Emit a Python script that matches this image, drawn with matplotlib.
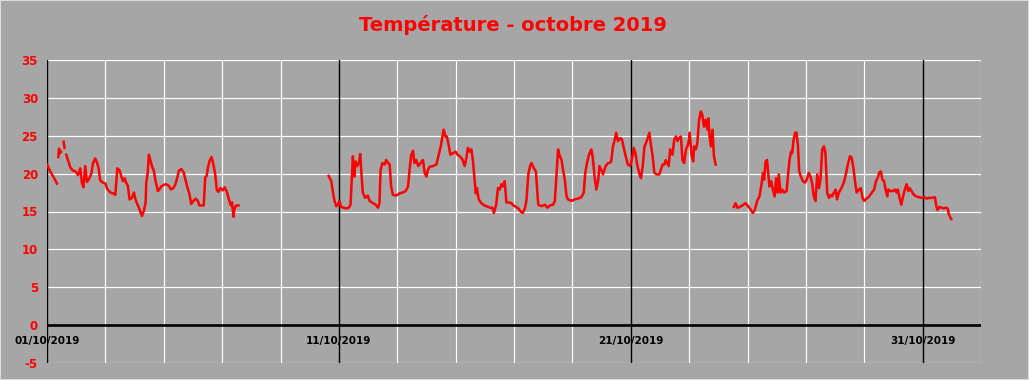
import numpy as np
import matplotlib
matplotlib.use("Agg")
import matplotlib.pyplot as plt
from matplotlib.patches import Rectangle

nan = np.nan

# days since 01/10/2019 00:00, temperatures in degC (NaN = missing data)
seg1_days = [0.0, 0.11, 0.23, 0.34, nan, 0.39, 0.41, 0.45, 0.48, nan, 0.57, 0.60, nan,
             0.66, 0.75, 0.80, 0.89, 0.98, 1.06, 1.14, 1.20, 1.25, 1.31,
             1.37, 1.44, 1.52, 1.57, 1.65, 1.71, 1.77, 1.82, 1.92, 2.00,
             2.06, 2.17, 2.26, 2.34, 2.41, 2.49, 2.54, 2.60, 2.66, 2.71,
             2.77, 2.83, 2.91, 2.98, 3.03, 3.09, 3.17, 3.25, 3.32, 3.38,
             3.40, 3.45, 3.49, 3.55, 3.60, 3.66, 3.72, 3.80, 3.85, 3.91,
             3.99, 4.08, 4.17, 4.25, 4.33, 4.40, 4.46, 4.52, 4.60, 4.68,
             4.73, 4.80, 4.88, 4.94, 5.02, 5.09, 5.17, 5.22, 5.30, 5.37,
             5.42, 5.47, 5.51, 5.57, 5.64, 5.70, 5.76, 5.82, 5.87, 5.94,
             6.02, 6.09, 6.16, 6.24, 6.30, 6.34, 6.39, 6.42, 6.48, 6.56]
seg1_temp = [21.2, 20.3, 19.5, 18.7, nan, 22.2, 23.3, 22.7, 22.9, nan, 24.2, 23.4, nan,
             22.5, 21.4, 20.8, 20.4, 20.3, 19.8, 20.7, 18.7, 18.2, 21.0,
             18.9, 19.3, 20.0, 21.3, 22.0, 21.5, 20.7, 19.1, 18.8, 18.7,
             18.0, 17.5, 17.4, 17.2, 20.7, 20.4, 19.7, 19.0, 19.4, 18.8,
             18.4, 16.6, 16.8, 17.5, 16.6, 16.0, 15.3, 14.4, 15.1, 16.2,
             18.8, 20.1, 22.5, 21.7, 20.9, 20.4, 19.0, 17.7, 17.9, 18.3,
             18.5, 18.6, 18.4, 17.9, 18.1, 18.6, 19.4, 20.4, 20.6, 20.2,
             19.4, 18.3, 17.3, 16.0, 16.4, 16.7, 16.4, 15.8, 15.8, 15.8,
             19.5, 19.7, 20.7, 21.7, 22.2, 21.2, 20.0, 17.8, 17.6, 18.1,
             17.8, 18.2, 17.6, 16.5, 15.8, 16.2, 14.3, 15.3, 15.8, 15.8]

seg2_days = [9.65, 9.74, 9.79, 9.85, 9.91, 9.97, 10.02, 10.08, 10.16, 10.25,
             10.34, 10.40, 10.45, 10.48, 10.53, 10.57, 10.63, 10.69, 10.73, 10.78,
             10.82, 10.90, 10.99, 11.05, 11.17, 11.26, 11.34, 11.39, 11.43, 11.49,
             11.57, 11.62, 11.69, 11.74, 11.79, 11.85, 11.97, 12.08, 12.19, 12.29,
             12.37, 12.42, 12.48, 12.54, 12.59, 12.65, 12.72, 12.80, 12.88, 12.94,
             13.00, 13.05, 13.11, 13.22, 13.34, 13.42, 13.49, 13.54, 13.59, 13.65,
             13.70, 13.76, 13.82, 13.91, 14.00, 14.06, 14.14, 14.23, 14.31, 14.37,
             14.42, 14.48, 14.54, 14.59, 14.65, 14.69, 14.73, 14.79, 14.88, 14.99,
             15.11, 15.19, 15.26, 15.31, 15.39, 15.45, 15.51, 15.57, 15.62, 15.68,
             15.74, 15.83, 15.91, 15.98, 16.07, 16.15, 16.23, 16.30, 16.38, 16.43,
             16.49, 16.55, 16.60, 16.68, 16.75, 16.83, 16.94, 17.06, 17.15, 17.23,
             17.34, 17.40, 17.45, 17.51, 17.57, 17.63, 17.68, 17.74, 17.80, 17.85,
             17.97, 18.08, 18.19, 18.31, 18.39, 18.44, 18.50, 18.57, 18.65, 18.70,
             18.76, 18.82, 18.88, 18.93, 18.99, 19.05, 19.14, 19.22, 19.27, 19.33,
             19.39, 19.44, 19.50, 19.56, 19.64, 19.70, 19.76, 19.84, 19.90, 19.98,
             20.05, 20.10, 20.16, 20.22, 20.30, 20.35, 20.41, 20.47, 20.52, 20.58,
             20.64, 20.69, 20.75, 20.81, 20.89, 20.98, 21.03, 21.09, 21.15, 21.20,
             21.30, 21.35, 21.43, 21.49, 21.55, 21.60, 21.66, 21.72, 21.77, 21.83,
             21.89, 21.94, 22.00, 22.02, 22.08, 22.14, 22.17, 22.23, 22.28, 22.34,
             22.40, 22.45, 22.51, 22.57, 22.63, 22.66, 22.70, 22.75, 22.80, 22.85,
             22.91]
seg2_temp = [19.7, 19.0, 17.7, 16.4, 15.7, 15.9, 16.4, 15.6, 15.5, 15.4,
             15.5, 15.9, 20.1, 22.3, 19.6, 21.6, 21.0, 21.5, 22.6, 19.6,
             17.5, 16.8, 17.1, 16.4, 16.1, 15.9, 15.5, 16.1, 20.5, 21.4,
             21.2, 21.8, 21.4, 21.2, 18.3, 17.2, 17.1, 17.4, 17.5, 17.7,
             18.3, 20.5, 22.5, 23.0, 21.4, 21.8, 21.0, 21.4, 21.8, 20.1,
             19.6, 20.5, 20.9, 21.0, 21.2, 22.5, 23.6, 24.7, 25.8, 24.9,
             24.9, 23.8, 22.5, 22.7, 22.9, 22.5, 22.3, 21.9, 21.0, 22.1,
             23.4, 22.9, 23.2, 21.8, 19.2, 17.4, 18.1, 16.6, 16.1, 15.8,
             15.6, 15.5, 15.5, 14.8, 15.9, 18.1, 17.9, 18.6, 18.3, 19.0,
             16.2, 16.2, 16.1, 15.8, 15.6, 15.4, 15.0, 14.8, 15.5, 16.6,
             19.9, 21.0, 21.4, 20.7, 20.3, 15.9, 15.7, 15.9, 15.5, 15.8,
             15.9, 16.4, 19.6, 23.2, 22.3, 21.8, 20.5, 19.2, 17.0, 16.6,
             16.4, 16.6, 16.7, 16.9, 17.5, 20.1, 21.4, 22.5, 23.2, 22.1,
             19.6, 17.9, 19.0, 21.0, 20.5, 19.9, 21.0, 21.4, 21.4, 21.6,
             23.6, 24.3, 25.4, 24.3, 24.7, 24.5, 23.4, 22.1, 21.2, 21.0,
             22.1, 23.4, 22.7, 21.2, 19.9, 19.4, 21.0, 23.6, 24.0, 24.7,
             25.4, 23.8, 22.3, 20.1, 19.9, 19.9, 20.5, 21.2, 21.2, 21.8,
             21.0, 23.2, 22.5, 24.5, 24.9, 24.3, 24.7, 24.9, 21.8, 21.4,
             23.2, 23.6, 24.5, 25.4, 22.5, 21.6, 23.6, 23.2, 24.0, 27.1,
             28.2, 27.8, 26.2, 27.1, 25.8, 27.3, 24.9, 23.6, 25.8, 22.3,
             21.2]

seg3_days = [23.53, 23.59, 23.65, 23.73, 23.82, 23.93, 24.02, 24.10, 24.18, 24.25,
             24.33, 24.41, 24.48, 24.53, 24.57, 24.62, 24.67, 24.71, 24.75, 24.81,
             24.87, 24.93, 24.98, 25.03, 25.07, 25.13, 25.19, 25.25, 25.34, 25.39,
             25.44, 25.49, 25.53, 25.58, 25.63, 25.68, 25.73, 25.77, 25.83, 25.90,
             25.97, 26.03, 26.10, 26.16, 26.22, 26.27, 26.33, 26.39, 26.45, 26.50,
             26.56, 26.62, 26.67, 26.73, 26.79, 26.85, 26.90, 26.96, 27.02, 27.07,
             27.13, 27.22, 27.30, 27.38, 27.45, 27.51, 27.57, 27.63, 27.69, 27.74,
             27.82, 27.88, 27.94, 28.00, 28.05, 28.17, 28.26, 28.34, 28.40, 28.46,
             28.51, 28.57, 28.62, 28.68, 28.73, 28.79, 28.82, 28.90, 28.98, 29.05,
             29.11, 29.15, 29.21, 29.27, 29.33, 29.39, 29.45, 29.51, 29.55, 29.62,
             29.70, 29.78, 29.87, 29.95, 30.06, 30.14, 30.23, 30.33, 30.42, 30.47,
             30.51, 30.58, 30.65, 30.72, 30.79, 30.86, 30.90, 30.98]
seg3_temp = [15.6, 16.1, 15.5, 15.6, 15.8, 16.1, 15.7, 15.3, 14.8, 15.2,
             16.4, 17.0, 18.6, 20.1, 19.2, 21.6, 21.8, 20.1, 18.3, 19.0,
             17.9, 17.0, 19.4, 17.5, 19.9, 17.5, 17.9, 17.5, 17.7, 19.9,
             21.8, 22.9, 22.7, 24.5, 25.4, 25.4, 23.6, 20.3, 19.6, 19.0,
             18.8, 19.2, 20.1, 19.6, 18.6, 17.0, 16.4, 19.9, 18.1, 19.2,
             23.2, 23.6, 22.7, 17.5, 16.8, 17.2, 17.0, 17.5, 17.9, 16.6,
             17.5, 18.1, 18.8, 20.1, 21.4, 22.3, 22.1, 20.7, 18.8, 17.5,
             17.9, 18.1, 16.8, 16.4, 16.6, 17.0, 17.5, 17.9, 19.0, 19.4,
             20.1, 20.3, 19.2, 19.0, 17.9, 17.0, 17.9, 17.7, 17.7, 17.9,
             17.5, 17.9, 16.8, 15.9, 17.0, 17.9, 18.6, 17.7, 18.1, 17.7,
             17.2, 17.0, 16.9, 16.8, 16.9, 16.7, 16.8, 16.8, 16.9, 15.7,
             15.2, 15.6, 15.5, 15.4, 15.5, 15.4, 14.6, 14.0]

date_ticks = [0, 10, 20, 30]
date_labels = ["01/10/2019", "11/10/2019", "21/10/2019", "31/10/2019"]
y_ticks = list(range(-5, 40, 5))
title = "Température - octobre 2019"

BG = "#a6a6a6"

fig = plt.figure(figsize=(10.29, 3.80), dpi=100, facecolor=BG)
ax = fig.add_axes([47 / 1029, 1 - 363 / 380, (981 - 47) / 1029, (363 - 60) / 380])
ax.set_facecolor(BG)
ax.set_xlim(0, 32)
ax.set_ylim(-5, 35)

for s in ax.spines.values():
    s.set_visible(False)

# grid
for y in y_ticks:
    ax.axhline(y, color="white", lw=0.85, zorder=1)
for d in range(0, 33, 2):
    if d % 10 != 0:
        ax.axvline(d, color="white", lw=0.85, zorder=1)
for d in date_ticks:
    ax.axvline(d, color="black", lw=1.0, zorder=2)
ax.axhline(0, color="black", lw=1.9, zorder=2)

days = seg1_days + [nan] + seg2_days + [nan] + seg3_days
temps = seg1_temp + [nan] + seg2_temp + [nan] + seg3_temp
ax.plot(days, temps, color="#ff0000", lw=1.8, zorder=3, solid_joinstyle="round")

ax.set_yticks(y_ticks)
ax.set_yticklabels([str(v) for v in y_ticks], color="#ff0000",
                   fontweight="bold", fontsize=8.5)
ax.tick_params(axis="y", length=0, pad=6.5)
ax.set_xticks([])

for d, lab in zip(date_ticks, date_labels):
    ax.text(d, -2.1, lab, ha="center", va="center", fontsize=7.5,
            fontweight="bold", color="black", zorder=4)

fig.text(513 / 1029, 1 - 25 / 380, title, ha="center", va="center",
         fontsize=14, fontweight="bold", color="#ff0000")

fig.patches.append(Rectangle((0, 0), 1, 1, transform=fig.transFigure,
                             fill=False, edgecolor="#dcdcdc", lw=1.5))

fig.savefig("out.png", dpi=100, facecolor=BG)
